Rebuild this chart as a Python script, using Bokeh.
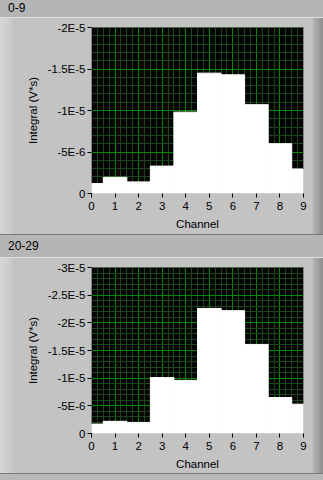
from bokeh.plotting import figure
from bokeh.models import Range1d, FixedTicker, Div, CustomJSTickFormatter
from bokeh.layouts import column
from bokeh.embed import file_html
from bokeh.resources import INLINE
import numpy as np

# ---- data ----
channels = [0, 1, 2, 3, 4, 5, 6, 7, 8, 9]
integral_0_9 = [-1.2e-6, -1.95e-6, -1.4e-6, -3.3e-6, -9.8e-6,
                -1.45e-5, -1.43e-5, -1.07e-5, -6.0e-6, -2.95e-6]
integral_20_29 = [-1.7e-6, -2.2e-6, -2.0e-6, -1.01e-5, -9.6e-6,
                  -2.26e-5, -2.22e-5, -1.61e-5, -6.5e-6, -5.3e-6]
x_ticks = [0, 1, 2, 3, 4, 5, 6, 7, 8, 9]
y_ticks_0_9 = [0, -5e-6, -1e-5, -1.5e-5, -2e-5]
y_labels_0_9 = ["0", "-5E-6", "-1E-5", "-1.5E-5", "-2E-5"]
y_ticks_20_29 = [0, -5e-6, -1e-5, -1.5e-5, -2e-5, -2.5e-5, -3e-5]
y_labels_20_29 = ["0", "-5E-6", "-1E-5", "-1.5E-5", "-2E-5", "-2.5E-5", "-3E-5"]
titles = ["0-9", "20-29"]

FONT = "Liberation Sans"
FS = "11.5px"
BODY_BG = ("linear-gradient(to right, #d6d6d6 0px, #cacaca 11px, #c3c3c3 13px, "
           "#c3c3c3 312px, #b0b0b0 314px, #8e8e8e 323px)")


def bar(text, height, top_border=None):
    st = {"background-color": "#b5b5b5", "font-family": FONT, "font-size": "12px",
          "color": "#000000", "text-indent": "8px", "line-height": f"{height - 2}px",
          "border-bottom": "1px solid #dedede", "box-sizing": "border-box",
          "overflow": "hidden"}
    if top_border:
        st["border-top"] = "1px solid " + top_border
    return Div(text=text, width=323, height=height, styles=st, margin=0)


def panel(values, yticks, ylabels, ymin, height, bb):
    p = figure(width=323, height=height, output_backend="svg", toolbar_location=None,
               x_range=Range1d(0, 9), y_range=Range1d(0, ymin),
               min_border_left=91, min_border_right=20, min_border_top=9,
               min_border_bottom=bb, background_fill_color="#040404",
               border_fill_alpha=0, outline_line_color="#858585",
               styles={"background": BODY_BG}, margin=0)
    p.vbar(x=channels, width=1, top=values, bottom=0, fill_color="#ffffff",
           line_color="#ffffff", line_width=1)
    xt = FixedTicker(ticks=x_ticks, minor_ticks=list(np.arange(0, 9.01, 0.25)))
    yt = FixedTicker(ticks=yticks, minor_ticks=list(np.arange(0, ymin - 1e-7, -1e-6)))
    p.xaxis.ticker = xt
    p.yaxis.ticker = yt
    p.yaxis.formatter = CustomJSTickFormatter(args=dict(tvals=yticks, tlabels=ylabels), code="""
        let best = 0;
        for (let i = 0; i < tvals.length; i++) {
            if (Math.abs(tvals[i] - tick) < Math.abs(tvals[best] - tick)) best = i;
        }
        return tlabels[best];
    """)
    for ax in (p.xaxis, p.yaxis):
        ax.axis_line_color = None
        ax.major_tick_line_color = "#000000"
        ax.major_tick_in = 0
        ax.major_tick_out = 4
        ax.minor_tick_line_color = None
        ax.major_label_text_font = FONT
        ax.major_label_text_font_size = FS
        ax.major_label_text_color = "#000000"
        ax.axis_label_text_font = FONT
        ax.axis_label_text_font_size = FS
        ax.axis_label_text_font_style = "normal"
        ax.axis_label_text_color = "#000000"
    p.xaxis.axis_label = "Channel"
    p.yaxis.axis_label = "Integral (V*s)"
    p.yaxis.major_label_standoff = 2
    p.xaxis.major_label_standoff = 4
    p.yaxis.axis_label_standoff = 6
    p.xaxis.axis_label_standoff = 5
    for g in (p.xgrid, p.ygrid):
        g.grid_line_color = "#008a00"
        g.grid_line_width = 1
        g.minor_grid_line_color = "#1d451d"
        g.minor_grid_line_width = 1
    return p


p1 = panel(integral_0_9, y_ticks_0_9, y_labels_0_9, -2e-5, 216, 41)
p2 = panel(integral_20_29, y_ticks_20_29, y_labels_20_29, -3e-5, 215, 40)

layout = column(bar(titles[0], 18), p1, bar(titles[1], 24, "#7a7a7a"), p2,
                Div(text="", width=323, height=7, margin=0,
                    styles={"background-color": "#b8b8b8", "border-top": "1px solid #7a7a7a",
                            "box-sizing": "border-box"}),
                spacing=0, margin=0)

open("out.html", "w").write(file_html(layout, INLINE))
